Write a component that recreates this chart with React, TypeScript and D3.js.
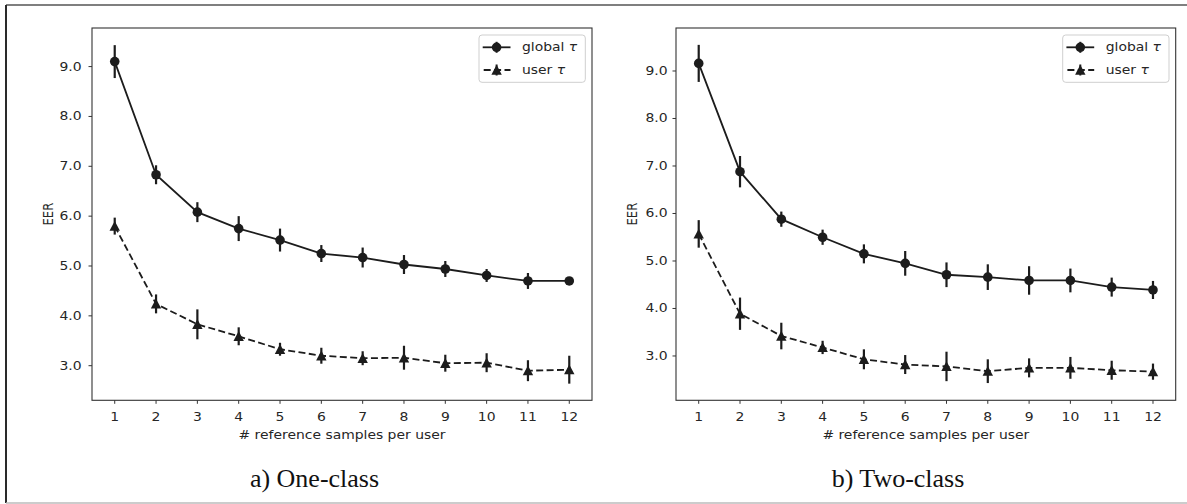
import React from "react";
import * as d3 from "d3";

const samples = [1, 2, 3, 4, 5, 6, 7, 8, 9, 10, 11, 12];
const yTicks = [3, 4, 5, 6, 7, 8, 9];
const seriesNames = ["global", "user"];
const tau = "\u03c4";

const oneGlobal = [9.1, 6.83, 6.08, 5.75, 5.52, 5.25, 5.17, 5.03, 4.94, 4.81, 4.7, 4.7];
const oneGlobalErr = [0.33, 0.19, 0.2, 0.25, 0.23, 0.17, 0.2, 0.19, 0.16, 0.13, 0.16, 0.07];
const oneUser = [5.8, 4.24, 3.83, 3.59, 3.33, 3.2, 3.15, 3.16, 3.05, 3.06, 2.9, 2.92];
const oneUserErr = [0.17, 0.19, 0.3, 0.18, 0.13, 0.16, 0.14, 0.24, 0.17, 0.19, 0.21, 0.28];

const twoGlobal = [9.16, 6.88, 5.88, 5.5, 5.15, 4.95, 4.71, 4.66, 4.59, 4.59, 4.45, 4.39];
const twoGlobalErr = [0.39, 0.33, 0.16, 0.16, 0.2, 0.26, 0.26, 0.27, 0.3, 0.25, 0.2, 0.19];
const twoUser = [5.57, 3.89, 3.42, 3.18, 2.93, 2.82, 2.78, 2.68, 2.75, 2.75, 2.7, 2.67];
const twoUserErr = [0.29, 0.34, 0.28, 0.14, 0.21, 0.2, 0.31, 0.25, 0.2, 0.23, 0.2, 0.17];

const INK = "#1c1c1c";
const TXT = "#262626";
const SANS = "DejaVu Sans, sans-serif";
const FS = 11.6;
const SX = 1.2;

type Panel = {
  x0: number; x1: number; y0: number; y1: number;
  yDomain: [number, number];
  yLabelRight: number; eerX: number;
  caption: string; capX: number;
  global: number[]; globalErr: number[]; user: number[]; userErr: number[];
};

const panels: Panel[] = [
  {
    x0: 92, x1: 592, y0: 28, y1: 400.3, yDomain: [2.306, 9.774],
    yLabelRight: 81.5, eerX: 53, caption: "a) One-class", capX: 314.5,
    global: oneGlobal, globalErr: oneGlobalErr, user: oneUser, userErr: oneUserErr,
  },
  {
    x0: 676, x1: 1175.7, y0: 28, y1: 400.3, yDomain: [2.067, 9.905],
    yLabelRight: 667.5, eerX: 636.7, caption: "b) Two-class", capX: 898,
    global: twoGlobal, globalErr: twoGlobalErr, user: twoUser, userErr: twoUserErr,
  },
];

const tri = (x: number, y: number, r: number) =>
  `M${x},${y - r}L${x - r},${y + r * 0.9}L${x + r},${y + r * 0.9}Z`;

function SText(props: { x: number; y: number; anchor?: string; children: React.ReactNode; rotate?: boolean }) {
  const { x, y, anchor = "start", children, rotate } = props;
  const tr = rotate
    ? `translate(${x},${y}) rotate(-90) scale(1,${SX})`
    : `translate(${x},${y}) scale(${SX},1)`;
  return (
    <text transform={tr} textAnchor={anchor} fontFamily={SANS} fontSize={FS} fill={TXT}>
      {children}
    </text>
  );
}

function PanelView({ p }: { p: Panel }) {
  const x = d3.scaleLinear().domain([0.45, 12.55]).range([p.x0, p.x1]);
  const y = d3.scaleLinear().domain(p.yDomain).range([p.y1, p.y0]);
  const line = d3.line<number>().x((_, i) => x(samples[i])).y((d) => y(d));
  const lx0 = p.x1 - 6.7 - 106.3;
  const ly0 = p.y0 + 7;
  const hx0 = lx0 + 3.7;
  const hx1 = hx0 + 27.8;
  const hxm = (hx0 + hx1) / 2;
  const row1 = ly0 + 12.3;
  const row2 = ly0 + 35;
  return (
    <g>
      <rect x={p.x0} y={p.y0} width={p.x1 - p.x0} height={p.y1 - p.y0} fill="none" stroke="#333" strokeWidth={1.1} />
      {samples.map((s) => (
        <g key={"xt" + s}>
          <line x1={x(s)} x2={x(s)} y1={p.y1} y2={p.y1 + 3.5} stroke="#333" strokeWidth={1} />
          <SText x={x(s)} y={420.7} anchor="middle">{String(s)}</SText>
        </g>
      ))}
      {yTicks.map((t) => (
        <g key={"yt" + t}>
          <line x1={p.x0 - 3.5} x2={p.x0} y1={y(t)} y2={y(t)} stroke="#333" strokeWidth={1} />
          <SText x={p.yLabelRight} y={y(t) + 4} anchor="end">{t.toFixed(1)}</SText>
        </g>
      ))}
      <SText x={(p.x0 + p.x1) / 2} y={439} anchor="middle"># reference samples per user</SText>
      <SText x={p.eerX} y={(p.y0 + p.y1) / 2} anchor="middle" rotate>EER</SText>

      {p.global.map((v, i) => (
        <line key={"ge" + i} x1={x(samples[i])} x2={x(samples[i])}
          y1={y(v - p.globalErr[i])} y2={y(v + p.globalErr[i])} stroke={INK} strokeWidth={2.2} />
      ))}
      <path d={line(p.global) || ""} fill="none" stroke={INK} strokeWidth={1.8} />
      {p.global.map((v, i) => (
        <circle key={"gm" + i} cx={x(samples[i])} cy={y(v)} r={4.8} fill={INK} />
      ))}

      {p.user.map((v, i) => (
        <line key={"ue" + i} x1={x(samples[i])} x2={x(samples[i])}
          y1={y(v - p.userErr[i])} y2={y(v + p.userErr[i])} stroke={INK} strokeWidth={2.2} />
      ))}
      <path d={line(p.user) || ""} fill="none" stroke={INK} strokeWidth={1.8} strokeDasharray="7,3.4" />
      {p.user.map((v, i) => (
        <path key={"um" + i} d={tri(x(samples[i]), y(v), 5.2)} fill={INK} />
      ))}

      <rect x={lx0} y={ly0} width={106.3} height={47.3} rx={3} fill="white" fillOpacity={0.8} stroke="#cfcfcf" strokeWidth={1} />
      <line x1={hx0} x2={hx1} y1={row1} y2={row1} stroke={INK} strokeWidth={1.8} />
      <line x1={hxm} x2={hxm} y1={row1 - 5.5} y2={row1 + 5.5} stroke={INK} strokeWidth={2} />
      <circle cx={hxm} cy={row1} r={4.8} fill={INK} />
      <SText x={lx0 + 43} y={row1 + 4}>
        {seriesNames[0]} <tspan fontStyle="italic">{tau}</tspan>
      </SText>
      <line x1={hx0} x2={hx1} y1={row2} y2={row2} stroke={INK} strokeWidth={1.8} strokeDasharray="7,3.4" strokeDashoffset={-1} />
      <line x1={hxm} x2={hxm} y1={row2 - 5.5} y2={row2 + 5.5} stroke={INK} strokeWidth={2} />
      <path d={tri(hxm, row2, 5.2)} fill={INK} />
      <SText x={lx0 + 43} y={row2 + 3.5}>
        {seriesNames[1]} <tspan fontStyle="italic">{tau}</tspan>
      </SText>

      <text x={p.capX} y={486.7} textAnchor="middle" fontFamily="Liberation Serif, Times New Roman, serif" fontSize={26} fill="#111">
        {p.caption}
      </text>
    </g>
  );
}

export default function App() {
  return (
    <svg width={1187} height={504} style={{ position: "absolute", left: 0, top: 0, background: "white" }}>
      <rect x={0} y={0} width={1187} height={504} fill="white" />
      <line x1={6} x2={1187} y1={5} y2={5} stroke="#555" strokeWidth={1.5} />
      <line x1={6} x2={6} y1={5} y2={503} stroke="#2a2a2a" strokeWidth={2} />
      <line x1={6} x2={1187} y1={503} y2={503} stroke="#bbb" strokeWidth={1.5} />
      {panels.map((p, i) => (
        <PanelView key={i} p={p} />
      ))}
    </svg>
  );
}
